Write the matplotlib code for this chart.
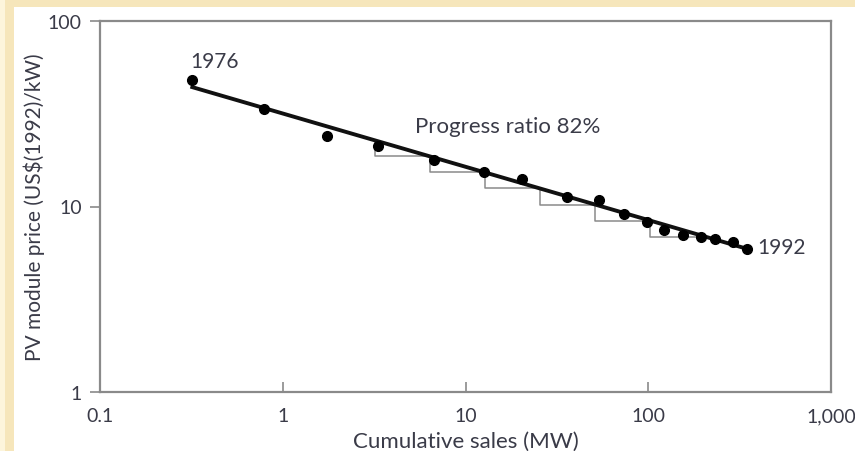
"""
PV module price experience curve, 1976-1992
"""

import numpy as np
import matplotlib
matplotlib.use("Agg")
import matplotlib.pyplot as plt
from matplotlib.patches import Rectangle

plt.rcParams['font.family'] = ['Lato', 'DejaVu Sans']

# cumulative sales (MW) and module price (US$(1992)/kW), one point per year
sales = [0.32, 0.79, 1.75, 3.33, 6.7, 12.6, 20.5, 36, 53.6, 74, 98, 122,
         155, 194, 231, 290, 347]
price = [48, 33.6, 24, 21.2, 17.8, 15.3, 14.1, 11.2, 10.8, 9.1, 8.25, 7.46,
         7.0, 6.85, 6.7, 6.44, 5.9]

# fitted experience curve (end points)
fit_x = [0.32, 350]
fit_y = [44, 5.9]

# doubling steps under the curve (each doubling -> price x 0.82)
step_x = [3.2, 6.4, 12.8, 25.6, 51.2, 102.4, 204.8]
step_y = [22.8, 18.7, 15.3, 12.6, 10.2, 8.35, 6.85]

x_ticks = [0.1, 1, 10, 100, 1000]
x_labels = ["0.1", "1", "10", "100", "1,000"]
y_ticks = [1, 10, 100]
y_labels = ["1", "10", "100"]

txt = "#3a3b48"
grey = "#8a8a8a"

fig = plt.figure(figsize=(8.55, 4.52), dpi=100)
fig.patch.set_facecolor("#f6e6bb")
fig.patches.append(Rectangle((0, 0), 5 / 855, 1, transform=fig.transFigure,
                             facecolor="#fdf5dc", edgecolor="none", zorder=-2))
fig.patches.append(Rectangle((14 / 855, 0), 1, 1 - 8 / 452, transform=fig.transFigure,
                             facecolor="white", edgecolor="none", zorder=-2))

ax = fig.add_axes([100 / 855, 1 - 393 / 452, 731 / 855, 371 / 452])
ax.set_zorder(1)
ax.set_xscale("log")
ax.set_yscale("log")
ax.set_xlim(0.1, 1000)
ax.set_ylim(1, 100)

# steps
for i in range(len(step_x) - 1):
    ax.plot([step_x[i], step_x[i], step_x[i + 1]],
            [step_y[i], step_y[i + 1], step_y[i + 1]],
            color=grey, lw=1.1, zorder=2)

ax.plot(fit_x, fit_y, color="#111111", lw=2.8, zorder=3)
ax.plot(sales, price, "o", color="black", ms=7, zorder=4)

ax.text(0.31, 61, "1976", color=txt, fontsize=15, va="center", ha="left")
ax.text(394, 6.05, "1992", color=txt, fontsize=15, va="center", ha="left")
ax.text(5.26, 27.2, "Progress ratio 82%", color=txt, fontsize=16,
        va="center", ha="left")

ax.set_xticks(x_ticks)
ax.set_xticklabels(x_labels)
ax.set_yticks(y_ticks)
ax.set_yticklabels(y_labels)
ax.minorticks_off()
ax.tick_params(axis="x", direction="in", length=7, width=1.2, color=grey,
               labelsize=14, labelcolor=txt, pad=11)
ax.tick_params(axis="y", direction="out", length=7, width=1.2, color=grey,
               labelsize=14, labelcolor=txt, pad=6)
for s in ax.spines.values():
    s.set_color(grey)
    s.set_linewidth(1.6)

ax.set_xlabel("Cumulative sales (MW)", color=txt, fontsize=16, labelpad=5)
ax.set_ylabel("PV module price (US$(1992)/kW)", color=txt, fontsize=15,
              labelpad=2)

fig.savefig("out.png", dpi=100, facecolor=fig.get_facecolor())
